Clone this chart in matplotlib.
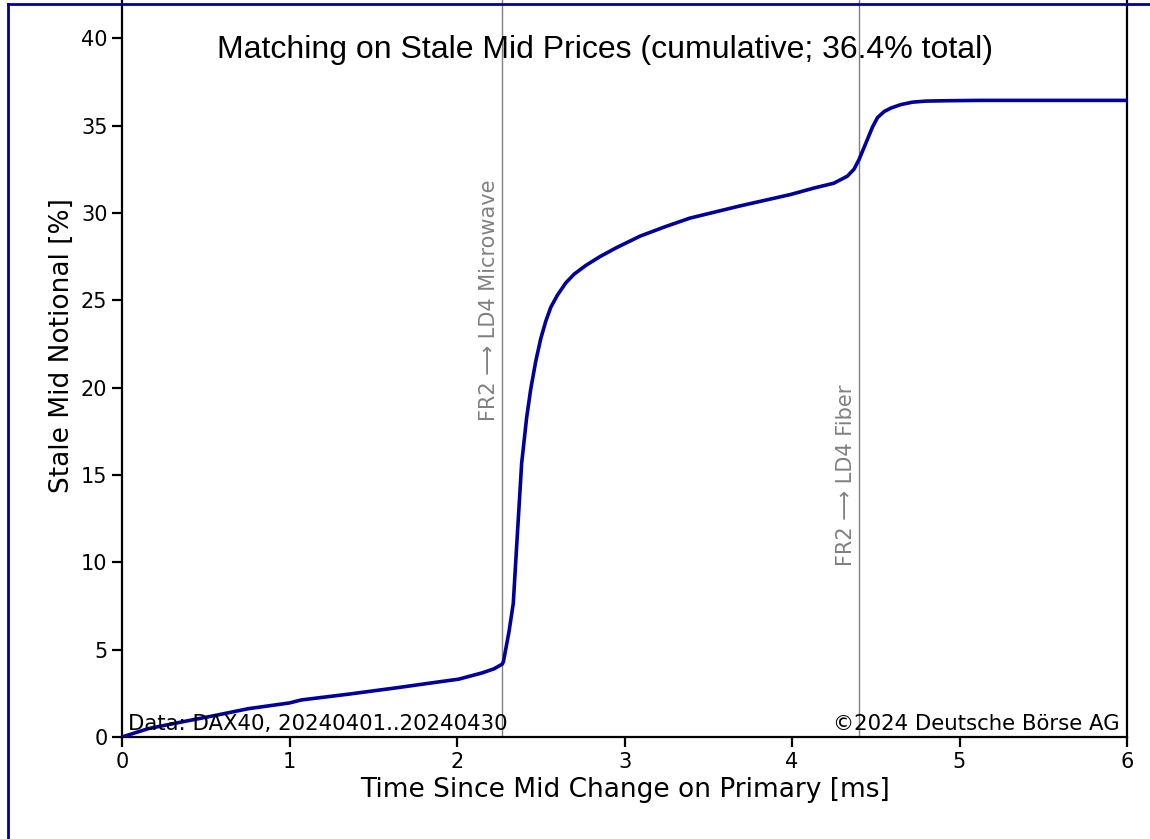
import matplotlib
matplotlib.use('Agg')
import matplotlib.pyplot as plt
from matplotlib.lines import Line2D

plt.rcParams.update({
    'font.family': ['DejaVu Sans'],
    'font.size': 15,
    'axes.linewidth': 1.6,
    'xtick.major.width': 1.6,
    'ytick.major.width': 1.6,
    'xtick.major.size': 7,
    'ytick.major.size': 7,
    'xtick.labelsize': 15,
    'ytick.labelsize': 15,
})

# cumulative stale mid notional [%] vs time since mid change [ms]
time_ms = [0.0, 0.157, 0.356, 0.555, 0.754, 1.0, 1.07, 1.35, 1.65, 1.85, 2.01, 2.15,
           2.22, 2.27, 2.277, 2.31, 2.336, 2.356, 2.386, 2.416, 2.44, 2.47, 2.50, 2.53,
           2.56, 2.60, 2.65, 2.70, 2.77, 2.854, 2.95, 3.093, 3.24, 3.39, 3.69, 3.99, 4.13,
           4.25, 4.33, 4.37, 4.40, 4.45, 4.48, 4.51, 4.55, 4.59, 4.65, 4.72, 4.8, 4.92,
           5.12, 6.0]
stale_pct = [0.0, 0.48, 0.86, 1.23, 1.62, 1.95, 2.12, 2.45, 2.83, 3.1, 3.31, 3.67,
             3.9, 4.17, 4.31, 6.0, 7.65, 10.9, 15.67, 18.3, 19.9, 21.5, 22.8, 23.8,
             24.6, 25.3, 26.0, 26.5, 27.0, 27.5, 28.0, 28.67, 29.2, 29.7, 30.4, 31.05, 31.42,
             31.7, 32.1, 32.5, 33.05, 34.2, 34.9, 35.45, 35.8, 36.0, 36.2, 36.34, 36.4, 36.42,
             36.44, 36.44]

links = [2.27, 4.4]
link_labels = ['FR2 \u27f6 LD4 Microwave', 'FR2 \u27f6 LD4 Fiber']
label_y = [25, 15]

W, H = 1150, 839
fig = plt.figure(figsize=(W / 100, H / 100), dpi=100)
ax = fig.add_axes([122 / W, 102 / H, 1005 / W, 782 / H])

ax.plot(time_ms, stale_pct, color='#00009c', lw=2.6, zorder=3)

for xv, lab, ly in zip(links, link_labels, label_y):
    ax.axvline(xv, color='grey', lw=1.0, zorder=2)
    ax.text(xv - 0.02, ly, lab, rotation=90, ha='right', va='center',
            fontsize=15, color='grey')

ax.set_xlim(0, 6)
ax.set_ylim(0, 782 / 17.47)
ax.set_xticks(range(0, 7))
ax.set_yticks(range(0, 41, 5))
ax.set_xlabel('Time Since Mid Change on Primary [ms]', fontsize=19)
ax.set_ylabel('Stale Mid Notional [%]', fontsize=19)

ax.text(0.4806, 39.3, 'Matching on Stale Mid Prices (cumulative; 36.4% total)',
        transform=ax.get_yaxis_transform(), ha='center', va='center',
        fontsize=23, family=['Liberation Sans'])

ax.text(0.0057, 0.004, 'Data: DAX40, 20240401..20240430', transform=ax.transAxes,
        ha='left', va='bottom', fontsize=15.3)
ax.text(0.993, 0.004, '\u00a92024 Deutsche B\u00f6rse AG', transform=ax.transAxes,
        ha='right', va='bottom', fontsize=15.3)

# dark blue frame (top and left edges visible)
fig.add_artist(Line2D([8 / W, 8 / W], [0, 1 - 4 / H], transform=fig.transFigure,
                      color='#00009c', lw=2))
fig.add_artist(Line2D([8 / W, 1], [1 - 4 / H, 1 - 4 / H], transform=fig.transFigure,
                      color='#00009c', lw=2))

fig.savefig('out.png', dpi=100, facecolor='white')
